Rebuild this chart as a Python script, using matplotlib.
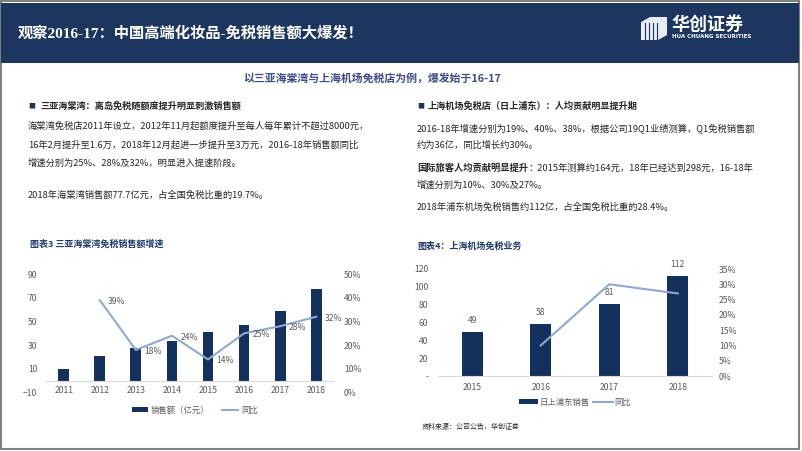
import matplotlib.pyplot as plt
import matplotlib.patches as patches
import numpy as np

plt.rcParams['font.family'] = ['Noto Sans CJK SC', 'DejaVu Sans']

W, H = 802, 451
navy = '#1C365F'
bar_c = '#14315E'
line_c = '#8FAAD2'
gray = '#595959'
txt_c = '#262626'

# 图表3 三亚海棠湾
years_sy = ['2011', '2012', '2013', '2014', '2015', '2016', '2017', '2018']
sales_sy = [10.1, 20.5, 28.0, 33.4, 41.3, 46.9, 58.7, 77.7]
yoy_sy = [np.nan, 0.39, 0.18, 0.24, 0.14, 0.25, 0.28, 0.32]

# 图表4 上海机场
years_sh = ['2015', '2016', '2017', '2018']
sales_sh = [49, 58, 81, 112]
yoy_sh = [np.nan, 0.10, 0.30, 0.27]


def px(x, y):
    # pixel coords (from top-left) -> figure fraction
    return x / W, 1 - y / H


fig = plt.figure(figsize=(W / 100, H / 100), dpi=100)
rend = fig.canvas.get_renderer()

# frame + header band
fig.patches.append(patches.Rectangle(px(1, 449), 798 / W, 448 / H, transform=fig.transFigure,
                                     fill=False, edgecolor='#808080', linewidth=1.5))
fig.patches.append(patches.Rectangle(px(1, 63), 798 / W, 60 / H, transform=fig.transFigure,
                                     facecolor=navy, edgecolor='none'))

fig.text(*px(18, 33), '观察2016-17：中国高端化妆品-免税销售额大爆发！', color='white',
         fontsize=11, fontweight='bold', va='center',
         family=['Liberation Serif', 'Noto Sans CJK SC'])

# logo
box = [(641, 22), (650, 17), (667, 17), (667, 35), (658, 40), (641, 40)]
fig.patches.append(patches.Polygon([px(*p) for p in box], closed=True, transform=fig.transFigure,
                                   facecolor='#E8EDF4', edgecolor='none'))
for sx in [645, 649, 653, 657]:
    fig.lines.append(plt.Line2D([sx / W, sx / W], [1 - 23 / H, 1 - 39 / H], transform=fig.transFigure,
                                color=navy, linewidth=0.8))
fig.text(*px(671, 24), '华创证券', color='white', fontsize=13, fontweight='bold', va='center')
fig.text(*px(672, 36), 'HUA CHUANG SECURITIES', color='white', fontsize=4.0, fontweight='bold',
         va='center', family=['DejaVu Sans'])

# subtitle
fig.text(*px(243, 78), '以三亚海棠湾与上海机场免税店为例，爆发始于16-17', color='#3A4A8A',
         fontsize=7.8, fontweight='bold', va='center')

fs = 6.7
# left text block
fig.text(*px(28, 106), '■', color=navy, fontsize=5, va='center')
fig.text(*px(40, 106), '三亚海棠湾：离岛免税随额度提升明显刺激销售额', color=txt_c,
         fontsize=6.6, fontweight='bold', va='center')
left_lines = ['海棠湾免税店2011年设立，2012年11月起额度提升至每人每年累计不超过8000元，',
              '16年2月提升至1.6万，2018年12月起进一步提升至3万元，2016-18年销售额同比',
              '增速分别为25%、28%及32%，明显进入提速阶段。',
              '2018年海棠湾销售额77.7亿元，占全国免税比重的19.7%。']
for ln, yy in zip(left_lines, [126, 145, 163, 195]):
    fig.text(*px(28, yy), ln, color=txt_c, fontsize=fs, va='center')

# right text block
fig.text(*px(417, 106), '■', color=navy, fontsize=5, va='center')
fig.text(*px(428, 106), '上海机场免税店（日上浦东）：人均贡献明显提升期', color=txt_c,
         fontsize=6.6, fontweight='bold', va='center')
fig.text(*px(417, 128), '2016-18年增速分别为19%、40%、38%，根据公司19Q1业绩测算，Q1免税销售额',
         color=txt_c, fontsize=fs, va='center')
fig.text(*px(417, 145), '约为36亿，同比增长约30%。', color=txt_c, fontsize=fs, va='center')
tb = fig.text(*px(417, 168), '国际旅客人均贡献明显提升', color=txt_c, fontsize=fs, fontweight='bold',
              va='center')
bx = tb.get_window_extent(rend).x1
fig.text(bx / W, 1 - 168 / H, '：2015年测算约164元，18年已经达到298元，16-18年', color=txt_c,
         fontsize=fs, va='center')
fig.text(*px(417, 185), '增速分别为10%、30%及27%。', color=txt_c, fontsize=fs, va='center')
fig.text(*px(417, 207), '2018年浦东机场免税销售约112亿，占全国免税比重的28.4%。', color=txt_c,
         fontsize=fs, va='center')

# chart titles
fig.text(*px(30, 244), '图表3 三亚海棠湾免税销售额增速', color='#1F3A6B', fontsize=6.5,
         fontweight='bold', va='center')
fig.text(*px(417, 246), '图表4：上海机场免税业务', color='#1F3A6B', fontsize=6.5,
         fontweight='bold', va='center')
fig.text(*px(422, 427), '资料来源：公司公告，华创证券', color=txt_c, fontsize=5.0, va='center')

# ---- left chart
x1 = np.arange(len(years_sy))
ax1 = fig.add_axes([45.7 / W, 1 - 392.7 / H, 288.5 / W, 118.7 / H])
b1 = ax1.bar(x1, sales_sy, width=0.3, color=bar_c, zorder=2)
ax1.set_ylim(-10, 90)
ax1.set_yticks([-10, 10, 30, 50, 70, 90])
ax1.set_xlim(-0.5, len(years_sy) - 0.5)
ax1.set_xticks(x1)
ax1.set_xticklabels(years_sy)
for s in ['top', 'left', 'right']:
    ax1.spines[s].set_visible(False)
ax1.spines['bottom'].set_position(('data', 0))
ax1.spines['bottom'].set_color('#D9D9D9')
ax1.tick_params(length=0, labelsize=6.2, labelcolor=gray)
ax1.tick_params(axis='y', pad=6)
ax1.tick_params(axis='x', pad=4)
ax1.patch.set_alpha(0)

ax1r = ax1.twinx()
l1, = ax1r.plot(x1, yoy_sy, color=line_c, linewidth=1.5)
ax1r.set_ylim(0, 0.5)
ax1r.set_yticks(np.arange(0, 0.51, 0.1))
ax1r.set_yticklabels([f'{v:.0%}' for v in np.arange(0, 0.51, 0.1)])
for s in ax1r.spines.values():
    s.set_visible(False)
ax1r.tick_params(length=0, labelsize=6.2, labelcolor=gray, pad=7)
for xi, v in zip(x1, yoy_sy):
    if not np.isnan(v):
        ax1r.annotate(f'{v:.0%}', (xi, v), xytext=(6, -1), textcoords='offset points',
                      ha='left', va='center', fontsize=6.2, color=gray)
fig.legend([b1, l1], ['销售额（亿元）', '同比'], loc='center', bbox_to_anchor=px(195, 410),
           ncol=2, frameon=False, fontsize=6, labelcolor=gray, handlelength=1.9,
           handleheight=0.5, handletextpad=0.4, columnspacing=1.5)

# ---- right chart
x2 = np.arange(len(years_sh))
ax2 = fig.add_axes([438 / W, 1 - 376 / H, 274 / W, 107 / H])
b2 = ax2.bar(x2, sales_sh, width=0.3, color=bar_c, zorder=2)
ax2.set_ylim(0, 120)
ax2.set_yticks(np.arange(0, 121, 20))
ax2.set_yticklabels(['-'] + [str(v) for v in range(20, 121, 20)])
ax2.set_xlim(-0.5, len(years_sh) - 0.5)
ax2.set_xticks(x2)
ax2.set_xticklabels(years_sh)
for s in ['top', 'left', 'right']:
    ax2.spines[s].set_visible(False)
ax2.spines['bottom'].set_color('#D9D9D9')
ax2.tick_params(length=0, labelsize=6.2, labelcolor=gray)
ax2.tick_params(axis='y', pad=7)
ax2.tick_params(axis='x', pad=5)
for xi, v in zip(x2, sales_sh):
    ax2.annotate(str(v), (xi, v), xytext=(0, 5), textcoords='offset points',
                 ha='center', va='bottom', fontsize=6.2, color=gray)

ax2r = ax2.twinx()
l2, = ax2r.plot(x2, yoy_sh, color=line_c, linewidth=1.5)
ax2r.set_ylim(0, 0.35)
ax2r.set_yticks(np.arange(0, 0.351, 0.05))
ax2r.set_yticklabels([f'{v:.0%}' for v in np.arange(0, 0.351, 0.05)])
for s in ax2r.spines.values():
    s.set_visible(False)
ax2r.tick_params(length=0, labelsize=6.2, labelcolor=gray, pad=5)
fig.legend([b2, l2], ['日上浦东销售', '同比'], loc='center', bbox_to_anchor=px(575, 402),
           ncol=2, frameon=False, fontsize=6, labelcolor=gray, handlelength=2.3,
           handleheight=0.5, columnspacing=0.4, handletextpad=0.2)

fig.savefig('out.png', dpi=100)
